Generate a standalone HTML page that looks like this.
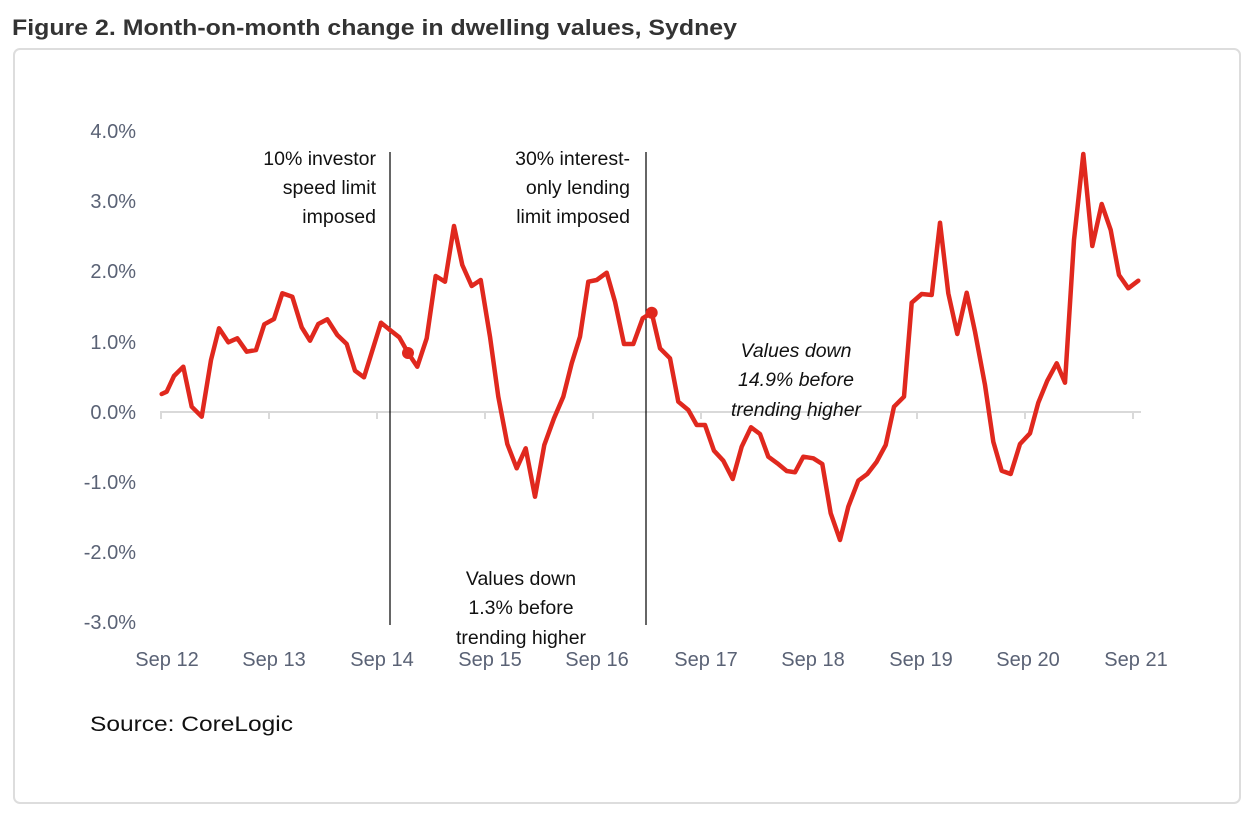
<!DOCTYPE html>
<html><head><meta charset="utf-8"><style>
body{margin:0;background:#fff;width:1248px;height:815px;overflow:hidden;font-family:"Liberation Sans",sans-serif}
</style></head><body>
<svg width="1248" height="815" xmlns="http://www.w3.org/2000/svg" style="position:absolute;left:0;top:0">
<text x="12" y="35" font-family="Liberation Sans, sans-serif" font-weight="bold" font-size="22" fill="#333" textLength="725" lengthAdjust="spacingAndGlyphs">Figure 2. Month-on-month change in dwelling values, Sydney</text>
<rect x="14" y="49" width="1226" height="754" rx="6" fill="#fff" stroke="#ddd" stroke-width="2"/>
<g font-family="Liberation Sans, sans-serif" font-size="20" fill="#5a6275" text-anchor="end">
<text x="136" y="138">4.0%</text><text x="136" y="208">3.0%</text><text x="136" y="278">2.0%</text>
<text x="136" y="349">1.0%</text><text x="136" y="419">0.0%</text><text x="136" y="489">-1.0%</text>
<text x="136" y="559">-2.0%</text><text x="136" y="629">-3.0%</text>
</g>
<line x1="160" y1="412" x2="1141" y2="412" stroke="#d9d9d9" stroke-width="2"/>
<g stroke="#d9d9d9" stroke-width="2">
<line x1="161" y1="412" x2="161" y2="419"/><line x1="269" y1="412" x2="269" y2="419"/><line x1="377" y1="412" x2="377" y2="419"/>
<line x1="485" y1="412" x2="485" y2="419"/><line x1="593" y1="412" x2="593" y2="419"/><line x1="701" y1="412" x2="701" y2="419"/>
<line x1="809" y1="412" x2="809" y2="419"/><line x1="917" y1="412" x2="917" y2="419"/><line x1="1025" y1="412" x2="1025" y2="419"/><line x1="1133" y1="412" x2="1133" y2="419"/>
</g>
<g font-family="Liberation Sans, sans-serif" font-size="20" fill="#5a6275" text-anchor="middle">
<text x="167" y="666">Sep 12</text><text x="274" y="666">Sep 13</text><text x="382" y="666">Sep 14</text>
<text x="490" y="666">Sep 15</text><text x="597" y="666">Sep 16</text><text x="706" y="666">Sep 17</text>
<text x="813" y="666">Sep 18</text><text x="921" y="666">Sep 19</text><text x="1028" y="666">Sep 20</text><text x="1136" y="666">Sep 21</text>
</g>
<line x1="390" y1="152" x2="390" y2="625" stroke="#000" stroke-width="1.2"/>
<line x1="646" y1="152" x2="646" y2="625" stroke="#000" stroke-width="1.2"/>
<g font-family="Liberation Sans, sans-serif" font-size="19.5" fill="#111" text-anchor="end">
<text x="376" y="165">10% investor</text><text x="376" y="194">speed limit</text><text x="376" y="223">imposed</text>
<text x="630" y="165">30% interest-</text><text x="630" y="194">only lending</text><text x="630" y="223">limit imposed</text>
</g>
<g font-family="Liberation Sans, sans-serif" font-size="19.5" fill="#111" text-anchor="middle">
<text x="521" y="585">Values down</text><text x="521" y="614">1.3% before</text><text x="521" y="644">trending higher</text>
</g>
<g font-family="Liberation Sans, sans-serif" font-size="19.5" fill="#111" text-anchor="middle" font-style="italic">
<text x="796" y="357">Values down</text><text x="796" y="386">14.9% before</text><text x="796" y="416">trending higher</text>
</g>
<polyline fill="none" stroke="#e0281e" stroke-width="4.5" stroke-linejoin="round" stroke-linecap="round" points="161.7,394 166.7,391.7 174,376 183.3,366.7 191.7,406.7 201.7,416.7 211,360 219,328.3 228.3,342.3 237.3,338.3 246.7,351.7 256,350 264.3,324.3 274,319 282.3,293.3 292.3,296.7 301.7,327.3 310,340.7 318.3,324 327.3,319.3 337.3,335 346.7,344 355,370.7 364,377.3 381,322.7 390,330 399.3,337.3 408.3,353.3 417.3,366.7 426.7,338.3 435.7,276 445,281.7 454,226 462.3,265 471.7,286 480.7,280 490,336.7 498.3,396.7 507.3,444 516.7,468.3 525.7,448.3 535,496.7 544.3,445 554,418.3 563.3,396.7 571.7,363.3 580,336.7 588.3,281.7 596.7,280 606.7,272.7 615,301.7 624,344 633.3,344 642.7,318.3 651.7,312.7 660,348.3 670,358.3 678.3,401.7 688.3,410 696.7,425 705,425 714,450.7 723.3,460.7 732.7,479 741.7,446.7 751,427.3 760,434 768.3,456.7 777.3,463.3 786.7,471 795,472.3 803.3,456.7 813.3,458.3 822.3,464 830.7,513.3 840,540 848.3,506.7 858.3,480.7 867.3,474 876.7,461.7 885.7,445 894,406.7 904,396.7 911.7,302.7 921.7,294 931.7,295 940,222.7 948.3,293.3 957.3,334 966.7,292.7 975,331.7 985,385 993.3,441.7 1001.7,470.7 1010.7,474 1020,444 1030,433.3 1038.3,402.7 1047.3,380.7 1056.7,363.3 1065,382.7 1074,240 1083.3,154 1092.3,246 1101.7,204 1110.7,230 1119,275 1128.3,288.3 1138.3,280.7"/>
<circle cx="408" cy="353" r="6" fill="#e0281e"/>
<circle cx="651.7" cy="312.7" r="6" fill="#e0281e"/>
<text x="90" y="731" font-family="Liberation Sans, sans-serif" font-size="21" fill="#111" textLength="203" lengthAdjust="spacingAndGlyphs">Source:  CoreLogic</text>
</svg>
</body></html>
